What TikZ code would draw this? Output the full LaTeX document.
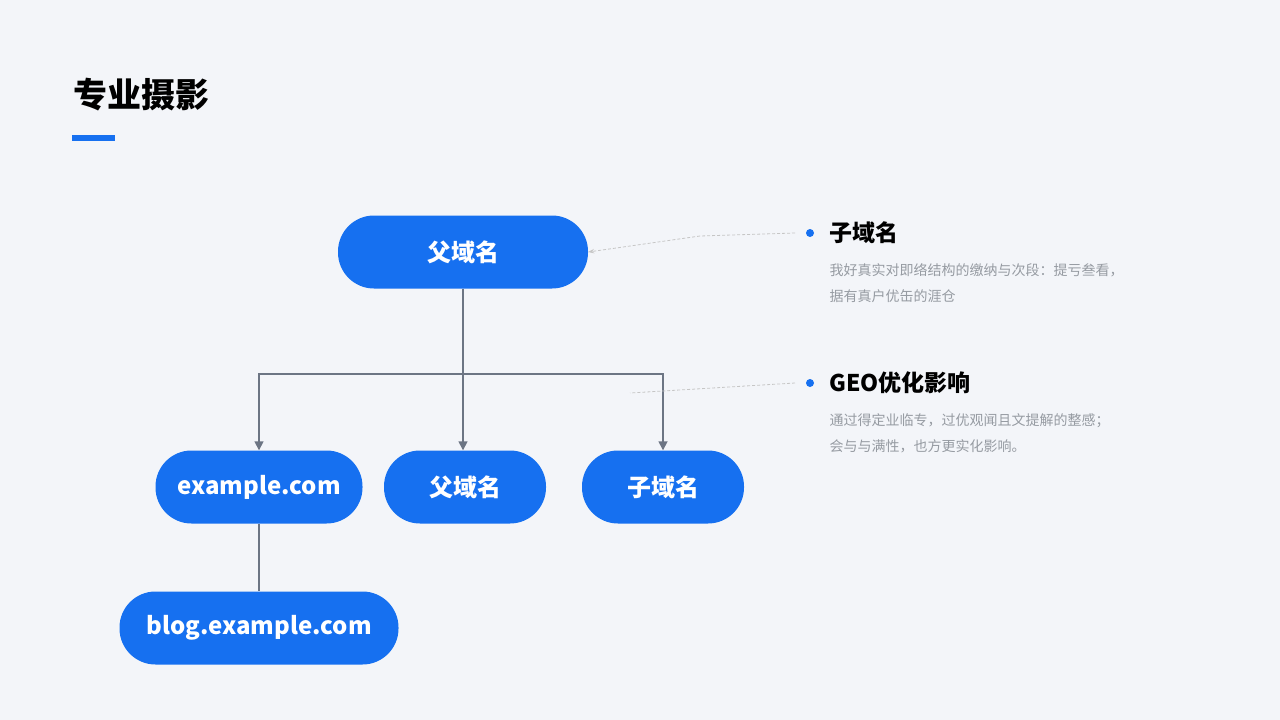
\documentclass[tikz,border=0pt]{standalone}
\usepackage{fontspec}
\setmainfont{Noto Sans CJK SC}
\usetikzlibrary{arrows.meta}
\definecolor{boxBlue}{RGB}{22,112,240}
\definecolor{lineGray}{RGB}{108,117,132}
\definecolor{textGray}{RGB}{150,155,162}
\definecolor{bgGray}{RGB}{243,245,249}
\tikzset{
  dombox/.style={fill=boxBlue,text=white,rounded corners=36pt,minimum height=73pt,font=\fontsize{24}{28}\selectfont\bfseries,inner sep=0pt},
  link/.style={lineGray,line width=1.6pt},
  hint/.style={densely dashed,gray!45,line width=0.8pt}
}
\begin{document}
\begin{tikzpicture}[x=1pt,y=-1pt]
        % background
        \fill[bgGray] (0,0) rectangle (1280,720);
        \useasboundingbox (0,0) rectangle (1280,720);
        % title
        \node[anchor=west,font=\fontsize{34}{40}\selectfont\bfseries] (title) at (70,95) {专业摄影};
        \fill[boxBlue] (72,135) rectangle (115,141);
        % tree
        \node[dombox,minimum width=250pt] (parent) at (463,252) {父域名};
        \node[dombox,minimum width=207pt] (example) at (259,487) {example.com};
        \node[dombox,minimum width=162pt] (parent2) at (465,487) {父域名};
        \node[dombox,minimum width=162pt] (child) at (663,487) {子域名};
        \node[dombox,minimum width=279pt] (blog) at (259,628) {blog.example.com};
        \coordinate (fork) at (463,374);
        \draw[link] (parent.south) -- (fork);
        \draw[link,-{Triangle[length=9pt,width=9pt]}] (fork) -| (example.north);
        \draw[link,-{Triangle[length=9pt,width=9pt]}] (fork) -- (parent2.north -| fork);
        \draw[link,-{Triangle[length=9pt,width=9pt]}] (fork) -| (child.north);
        \draw[link] (example.south) -- (blog.north);
        % notes
        \fill[boxBlue] (810,233) circle (4pt) coordinate (dotA);
        \fill[boxBlue] (810,383) circle (4pt) coordinate (dotB);
        \node[anchor=west,font=\fontsize{23}{28}\selectfont\bfseries] (headA) at (826,233) {子域名};
        \node[anchor=west,font=\fontsize{23}{28}\selectfont\bfseries] (headB) at (826,383) {GEO优化影响};
        \node[anchor=north west,text=textGray,align=left,font=\fontsize{14}{26}\selectfont] (bodyA) at (826,260)
            {我好真实对即络结构的缴纳与次段：提亏叁看，\\据有真户优缶的涯仓};
        \node[anchor=north west,text=textGray,align=left,font=\fontsize{14}{26}\selectfont] (bodyB) at (826,410)
            {通过得定业临专，过优观闻且文提解的整感；\\会与与满性，也方更实化影响。};
        \draw[hint,-{Stealth[length=6pt]}] (795,233) -- (700,236) -- (parent.east);
        \draw[hint] (795,383) -- (630,393);
\end{tikzpicture}
\end{document}
